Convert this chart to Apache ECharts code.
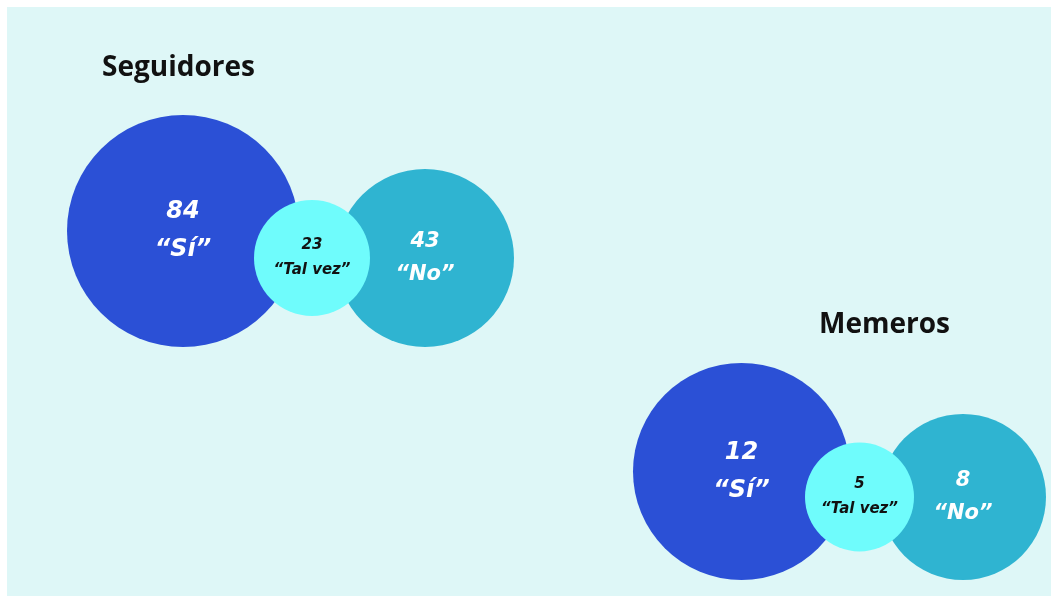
<!DOCTYPE html>
<html>
<head>
<meta charset="utf-8">
<script src="https://cdn.jsdelivr.net/npm/echarts@6/dist/echarts.min.js"></script>
<style>
html,body{margin:0;padding:0;background:#fff;}
#chart{width:1051px;height:596px;}
</style>
</head>
<body>
<div id="chart"></div>
<script>
// ---- data ----
var groups = ['Seguidores', 'Memeros'];
var categories = ['“Sí”', '“Tal vez”', '“No”'];
var siValues = [84, 12];
var talVezValues = [23, 5];
var noValues = [43, 8];

// ---- layout (not data) ----
var groupLayout = [
  { left: 67, bottom: 347, titleLeft: 102, titleTop: 54, d: [232, 116, 178] },
  { left: 633, bottom: 580, titleLeft: 819, titleTop: 311, d: [217, 109, 166] }
];
var overlapSiTv = 45, overlapTvNo = 34;

function centers(g) {
  var L = groupLayout[g];
  var rSi = L.d[0] / 2, rTv = L.d[1] / 2, rNo = L.d[2] / 2;
  var si = [L.left + rSi, L.bottom - rSi];
  var tvx = si[0] + rSi + rTv - overlapSiTv;
  var nox = tvx + rTv + rNo - overlapTvNo;
  var noY = L.bottom - rNo;
  return { si: si, tv: [tvx, noY], no: [nox, noY] };
}

var colors = ['#2b50d6', '#6ffcfc', '#2fb4d1'];
var labelStyle = [
  { color: '#ffffff', size: 24, lh: 38 },
  { color: '#111111', size: 15, lh: 25 },
  { color: '#ffffff', size: 21, lh: 33 }
];
var valuesByCat = [siValues, talVezValues, noValues];
var keys = ['si', 'tv', 'no'];

function buildSeries(ci) {
  var data = groups.map(function (gname, g) {
    var c = centers(g)[keys[ci]];
    return { value: [c[0], c[1], valuesByCat[ci][g]], symbolSize: groupLayout[g].d[ci] };
  });
  var ls = labelStyle[ci];
  return {
    type: 'scatter',
    name: categories[ci],
    symbol: 'circle',
    data: data,
    itemStyle: { color: colors[ci], opacity: 1 },
    z: ci === 1 ? 5 : 3,
    silent: true,
    label: {
      show: true,
      position: 'inside',
      formatter: function (p) { return p.value[2] + '\n' + categories[ci]; },
      color: ls.color,
      fontSize: ls.size,
      lineHeight: ls.lh,
      fontWeight: 'bold',
      fontStyle: 'italic',
      fontFamily: 'DejaVu Sans',
      align: 'center',
      verticalAlign: 'middle'
    },
    emphasis: { disabled: true }
  };
}

var chart = echarts.init(document.getElementById('chart'));
chart.setOption({
  backgroundColor: '#ffffff',
  animation: false,
  graphic: [{
    type: 'rect', z: -10, silent: true,
    shape: { x: 7, y: 7, width: 1044, height: 589 },
    style: { fill: '#def7f7' }
  }],
  title: groups.map(function (gname, g) {
    return {
      text: gname,
      left: groupLayout[g].titleLeft,
      top: groupLayout[g].titleTop,
      padding: 0,
      textStyle: { fontFamily: 'Open Sans', fontWeight: 'bold', fontSize: 28, color: '#111111' }
    };
  }),
  grid: { left: 0, right: 0, top: 0, bottom: 0 },
  xAxis: { type: 'value', min: 0, max: 1051, show: false },
  yAxis: { type: 'value', min: 0, max: 596, inverse: true, show: false },
  series: [buildSeries(0), buildSeries(2), buildSeries(1)]
});
</script>
</body>
</html>
